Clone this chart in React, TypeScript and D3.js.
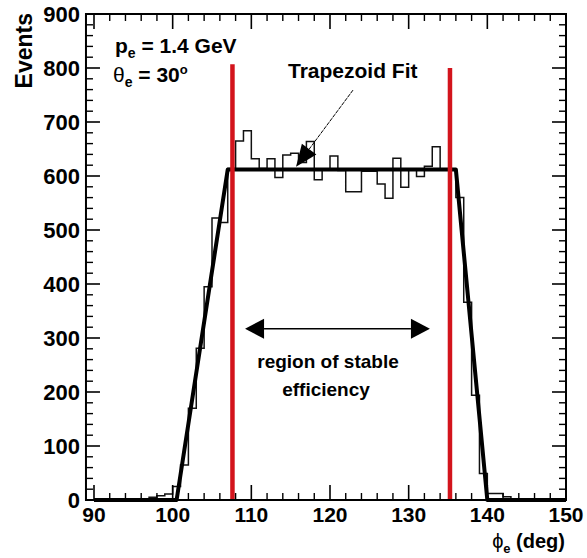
import React from "react";
import * as d3 from "d3";

// ---- data ----
const binStart = 90; // first bin low edge (deg), 1-deg bins
const counts = [
  0, 0, 0, 0, 0, 0, 0, 5, 8, 11, // 90-99
  25, 65, 170, 281, 395, 522, 514, 614, 665, 684, // 100-109
  632, 614, 632, 597, 639, 642, 625, 664, 593, 612, // 110-119
  637, 610, 571, 571, 609, 609, 585, 559, 633, 579, // 120-129
  611, 599, 618, 654, 612, 612, 560, 366, 194, 49, // 130-139
  12, 12, 6, 0, 0, 0, 0, 0, 0, 0, // 140-149
];
const fitX = [90, 100.5, 107.0, 136.0, 140.0, 150];
const fitY = [0, 0, 612, 612, 0, 0];
const cutX = [107.6, 135.25];
const cutTop = [807, 800];
const xTicks = [90, 100, 110, 120, 130, 140, 150];
const yTicks = [0, 100, 200, 300, 400, 500, 600, 700, 800, 900];

const W = 587;
const H = 558;
const FONT = "'Liberation Sans', Arial, Helvetica, sans-serif";

export default function App() {
  const x = d3.scaleLinear().domain([90, 150]).range([94, 566]);
  const y = d3.scaleLinear().domain([0, 900]).range([500, 14]);
  const left = x(88.98);
  const right = x(150);
  const top = y(900);
  const bottom = y(0);

  const histPts: [number, number][] = counts.map((c, i) => [binStart + i, c]);
  histPts.push([binStart + counts.length, counts[counts.length - 1]]);
  const stepLine = d3
    .line<[number, number]>()
    .x((d) => x(d[0]))
    .y((d) => y(d[1]))
    .curve(d3.curveStepAfter);
  const fitLine = d3
    .line<[number, number]>()
    .x((d) => x(d[0]))
    .y((d) => y(d[1]));
  const fitPts: [number, number][] = fitX.map((v, i) => [v, fitY[i]]);

  const xMinor = d3.range(90, 150.01, 2).filter((v) => v % 10 !== 0);
  const yMinor = d3.range(0, 900.01, 20).filter((v) => v % 100 !== 0);

  // annotation arrow (Trapezoid Fit)
  const aFrom = [x(122.92), y(759)];
  const aTip = [x(115.68), y(617)];
  const dx = aTip[0] - aFrom[0];
  const dy = aTip[1] - aFrom[1];
  const len = Math.hypot(dx, dy);
  const ux = dx / len;
  const uy = dy / len;
  const hl = 22;
  const hw = 9;
  const baseX = aTip[0] - ux * hl;
  const baseY = aTip[1] - uy * hl;
  const headPts = [
    [aTip[0], aTip[1]],
    [baseX - uy * hw, baseY + ux * hw],
    [baseX + uy * hw, baseY - ux * hw],
  ]
    .map((p) => p.join(","))
    .join(" ");

  // double arrow
  const dA = x(109.2);
  const dB = x(132.7);
  const dY = y(317);
  const dl = 19;
  const dw = 10;

  return (
    <svg
      width={W}
      height={H}
      style={{ position: "absolute", left: 0, top: 0, background: "#fff" }}
      fontFamily={FONT}
    >
      <rect x={0} y={0} width={W} height={H} fill="#fff" />
      {/* histogram */}
      <path d={stepLine(histPts) || ""} fill="none" stroke="#111" strokeWidth={1.5} />
      {/* fit */}
      <path d={fitLine(fitPts) || ""} fill="none" stroke="#000" strokeWidth={4} strokeLinejoin="round" />
      {/* red cut lines */}
      {cutX.map((c, i) => (
        <line key={i} x1={x(c)} x2={x(c)} y1={y(0)} y2={y(cutTop[i])} stroke="#d3141c" strokeWidth={4.5} />
      ))}
      {/* frame */}
      <rect x={left} y={top} width={right - left} height={bottom - top} fill="none" stroke="#000" strokeWidth={2} />
      {/* x ticks */}
      {xTicks.map((t) => (
        <g key={"xt" + t}>
          <line x1={x(t)} x2={x(t)} y1={bottom} y2={bottom - 15} stroke="#000" strokeWidth={1.6} />
          <line x1={x(t)} x2={x(t)} y1={top} y2={top + 15} stroke="#000" strokeWidth={1.6} />
          <text x={x(t)} y={522} textAnchor="middle" fontSize={21} fontWeight="bold">
            {t}
          </text>
        </g>
      ))}
      {xMinor.map((t) => (
        <g key={"xm" + t}>
          <line x1={x(t)} x2={x(t)} y1={bottom} y2={bottom - 7} stroke="#000" strokeWidth={1.4} />
          <line x1={x(t)} x2={x(t)} y1={top} y2={top + 7} stroke="#000" strokeWidth={1.4} />
        </g>
      ))}
      {/* y ticks */}
      {yTicks.map((t) => (
        <g key={"yt" + t}>
          <line x1={left} x2={left + 14} y1={y(t)} y2={y(t)} stroke="#000" strokeWidth={1.6} />
          <line x1={right} x2={right - 14} y1={y(t)} y2={y(t)} stroke="#000" strokeWidth={1.6} />
          <text x={80} y={y(t) + 7.5} textAnchor="end" fontSize={22} fontWeight="bold">
            {t}
          </text>
        </g>
      ))}
      {yMinor.map((t) => (
        <g key={"ym" + t}>
          <line x1={left} x2={left + 7} y1={y(t)} y2={y(t)} stroke="#000" strokeWidth={1.4} />
          <line x1={right} x2={right - 7} y1={y(t)} y2={y(t)} stroke="#000" strokeWidth={1.4} />
        </g>
      ))}
      {/* axis titles */}
      <text
        transform="translate(32,13) rotate(-90)"
        textAnchor="end"
        fontSize={23}
        fontWeight="bold"
      >
        Events
      </text>
      <text x={565} y={548} textAnchor="end" fontSize={20} fontWeight="bold">
        <tspan fontWeight="normal">ϕ</tspan>
        <tspan dy={5} fontSize={13}>e</tspan>
        <tspan dy={-5}> (deg)</tspan>
      </text>
      {/* labels */}
      <text x={115} y={53} fontSize={21} fontWeight="bold">
        p<tspan dy={5} fontSize={14}>e</tspan>
        <tspan dy={-5}> = 1.4 GeV</tspan>
      </text>
      <text x={113} y={82} fontSize={21} fontWeight="bold">
        <tspan fontWeight="normal">θ</tspan>
        <tspan dy={5} fontSize={14}>e</tspan>
        <tspan dy={-5}> = 30</tspan>
        <tspan dy={-8} fontSize={13}>o</tspan>
      </text>
      <text x={288} y={78} fontSize={21} fontWeight="bold">
        Trapezoid Fit
      </text>
      <line x1={aFrom[0]} y1={aFrom[1]} x2={baseX} y2={baseY} stroke="#000" strokeWidth={1} strokeDasharray="4,1" />
      <polygon points={headPts} fill="#000" />
      {/* double arrow */}
      <line x1={dA + dl} x2={dB - dl} y1={dY} y2={dY} stroke="#000" strokeWidth={1.5} />
      <polygon points={`${dA},${dY} ${dA + dl},${dY - dw} ${dA + dl},${dY + dw}`} fill="#000" />
      <polygon points={`${dB},${dY} ${dB - dl},${dY - dw} ${dB - dl},${dY + dw}`} fill="#000" />
      <text x={328} y={368} textAnchor="middle" fontSize={19} fontWeight="bold">
        region of stable
      </text>
      <text x={326} y={396} textAnchor="middle" fontSize={19} fontWeight="bold">
        efficiency
      </text>
    </svg>
  );
}
